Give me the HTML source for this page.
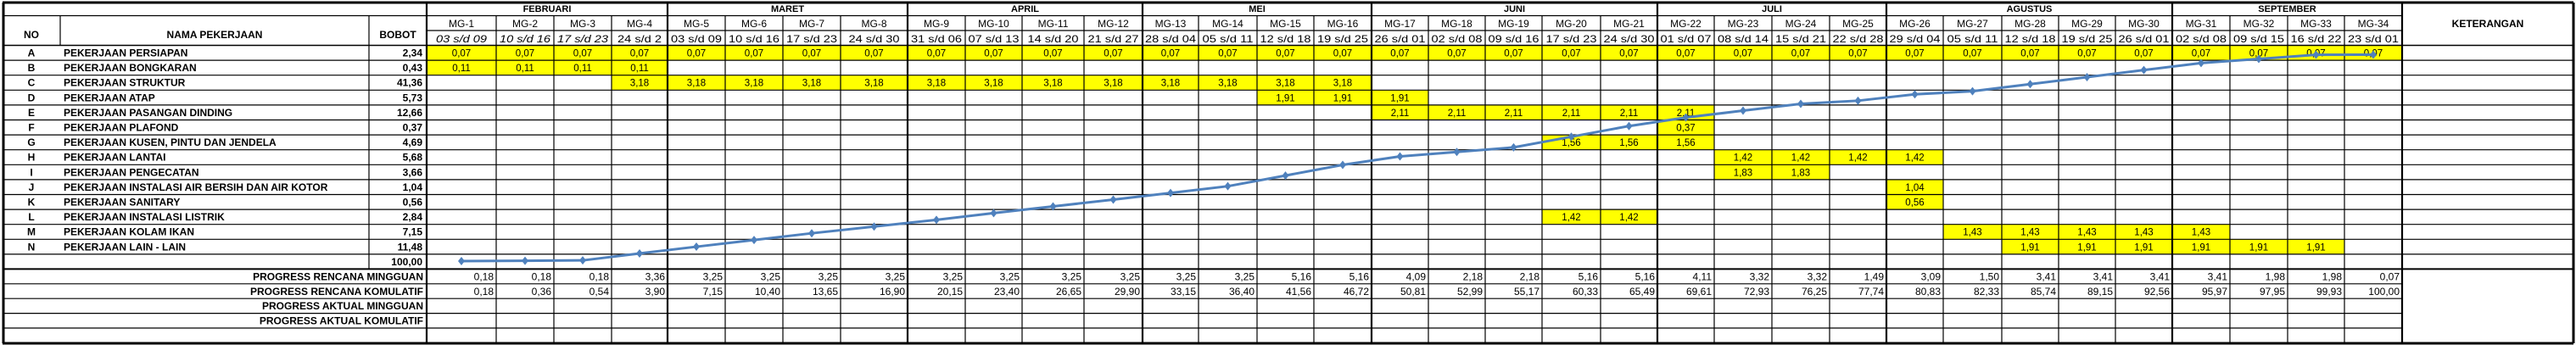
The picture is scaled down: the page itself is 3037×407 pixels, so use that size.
<!DOCTYPE html>
<html><head><meta charset="utf-8"><title>Time Schedule</title>
<style>
html,body{margin:0;padding:0;background:#fff;width:3037px;height:407px;overflow:hidden}
svg{display:block}
text{font-family:"Liberation Sans",sans-serif;fill:#000}
.b{font-weight:bold}
</style></head>
<body>
<svg id="chart" width="3037" height="407" viewBox="0 0 3037 407" xmlns="http://www.w3.org/2000/svg"></svg>
<script>
// ---- data ----
const weeks = ["MG-1","MG-2","MG-3","MG-4","MG-5","MG-6","MG-7","MG-8","MG-9","MG-10","MG-11","MG-12","MG-13","MG-14","MG-15","MG-16","MG-17","MG-18","MG-19","MG-20","MG-21","MG-22","MG-23","MG-24","MG-25","MG-26","MG-27","MG-28","MG-29","MG-30","MG-31","MG-32","MG-33","MG-34"];
const dates = ["03 s/d 09","10 s/d 16","17 s/d 23","24 s/d 2","03 s/d 09","10 s/d 16","17 s/d 23","24 s/d 30","31 s/d 06","07 s/d 13","14 s/d 20","21 s/d 27","28 s/d 04","05 s/d 11","12 s/d 18","19 s/d 25","26 s/d 01","02 s/d 08","09 s/d 16","17 s/d 23","24 s/d 30","01 s/d 07","08 s/d 14","15 s/d 21","22 s/d 28","29 s/d 04","05 s/d 11","12 s/d 18","19 s/d 25","26 s/d 01","02 s/d 08","09 s/d 15","16 s/d 22","23 s/d 01"];
const months = ["FEBRUARI","MARET","APRIL","MEI","JUNI","JULI","AGUSTUS","SEPTEMBER"];
const monthWeeks = [4,4,4,4,5,4,5,4];
const taskNo = ["A","B","C","D","E","F","G","H","I","J","K","L","M","N"];
const taskNames = ["PEKERJAAN PERSIAPAN","PEKERJAAN BONGKARAN","PEKERJAAN STRUKTUR","PEKERJAAN ATAP","PEKERJAAN PASANGAN DINDING","PEKERJAAN PLAFOND","PEKERJAAN KUSEN, PINTU DAN JENDELA","PEKERJAAN LANTAI","PEKERJAAN PENGECATAN","PEKERJAAN INSTALASI AIR BERSIH DAN AIR KOTOR","PEKERJAAN SANITARY","PEKERJAAN INSTALASI LISTRIK","PEKERJAAN KOLAM IKAN","PEKERJAAN LAIN - LAIN"];
const taskWeights = ["2,34","0,43","41,36","5,73","12,66","0,37","4,69","5,68","3,66","1,04","0,56","2,84","7,15","11,48"];
const taskStart = [1,1,4,15,17,22,20,23,23,26,26,20,27,28];
const taskEnd   = [34,4,16,17,22,22,22,26,24,26,26,21,31,33];
const taskValue = ["0,07","0,11","3,18","1,91","2,11","0,37","1,56","1,42","1,83","1,04","0,56","1,42","1,43","1,91"];
const weeklyPlan = [0.18,0.18,0.18,3.36,3.25,3.25,3.25,3.25,3.25,3.25,3.25,3.25,3.25,3.25,5.16,5.16,4.09,2.18,2.18,5.16,5.16,4.11,3.32,3.32,1.49,3.09,1.50,3.41,3.41,3.41,3.41,1.98,1.98,0.07];
const cumulativePlan = [0.18,0.36,0.54,3.90,7.15,10.40,13.65,16.90,20.15,23.40,26.65,29.90,33.15,36.40,41.56,46.72,50.81,52.99,55.17,60.33,65.49,69.61,72.93,76.25,77.74,80.83,82.33,85.74,89.15,92.56,95.97,97.95,99.93,100.00];

// ---- layout ----
const colEdges = [503,585,653,721,787,855,923,991,1070,1138,1205,1278,1347,1413,1482,1549,1617,1684,1751,1818,1887,1954,2021,2089,2157,2224,2291,2360,2427,2494,2561,2629,2697,2764,2832];
const KET_R = 3034, L = 3, NO_R = 71, NAME_R = 435;
const Y0 = 3, Y1 = 18.5, Y2 = 36, Y3 = 53.5;
const RH = 17.6;
const rowY = i => Y3 + i * RH;
const progY = [300, 317.4, 334.8, 352.2, 369.6, 387, 404];
const svg = document.getElementById('chart');
const NS = "http://www.w3.org/2000/svg";
function mk(tag, attrs) { const e = document.createElementNS(NS, tag); for (const k in attrs) e.setAttribute(k, attrs[k]); svg.appendChild(e); return e; }
function fmt(v) { return v.toFixed(2).replace('.', ','); }
function txt(x, y, s, size, anchor, cls) { const t = mk('text', {x: x, y: y, 'font-size': size, 'text-anchor': anchor || 'middle'}); if (cls) t.setAttribute('class', cls); t.textContent = s; return t; }
function line(x1, y1, x2, y2, w, c) { return mk('line', {x1: x1, y1: y1, x2: x2, y2: y2, stroke: c || '#000', 'stroke-width': w || 1}); }
const cx = i => (colEdges[i] + colEdges[i + 1]) / 2;

for (let t = 0; t < taskNo.length; t++) {
  for (let w = taskStart[t]; w <= taskEnd[t]; w++) {
    const i = w - 1;
    const r = mk('rect', {x: colEdges[i], y: rowY(t), width: colEdges[i + 1] - colEdges[i], height: RH, fill: '#ffff00'});
    
    
    const tx = txt(cx(i), rowY(t) + 13, taskValue[t], 11.5);
    
    
  }
}

line(L, Y1, colEdges[colEdges.length - 1], Y1, 1.2);
line(colEdges[0], Y2, colEdges[colEdges.length - 1], Y2, 1.2);
line(L, Y3, KET_R, Y3, 1.5);
for (let r = 1; r <= 14; r++) line(L, rowY(r), KET_R, rowY(r), 1.2);
line(L, progY[1], KET_R, progY[1], 2);
for (let r = 2; r <= 5; r++) line(L, progY[r], colEdges[colEdges.length - 1], progY[r], 1.2);

line(NO_R, Y1, NO_R, Y3, 1.2);
line(NAME_R, Y1, NAME_R, progY[1], 1.2);
let mEdges = [0]; let acc = 0; for (const n of monthWeeks) { acc += n; mEdges.push(acc); }
for (let i = 0; i < colEdges.length; i++) {
  const thick = mEdges.includes(i);
  line(colEdges[i], thick ? Y0 : Y1, colEdges[i], 404, thick ? 2.2 : 1.2);
}
line(L, Y0, KET_R, Y0, 3); line(L, 405, KET_R, 405, 3);
line(L + 1, Y0, L + 1, 405, 3); line(KET_R, Y0, KET_R, 405, 3);

const h1 = txt((L + NO_R) / 2, 45, 'NO', 12, 'middle', 'b');
 
const h2 = txt((NO_R + NAME_R) / 2, 45, 'NAMA PEKERJAAN', 12, 'middle', 'b');
 
const h3 = txt((NAME_R + colEdges[0]) / 2, 45, 'BOBOT', 12, 'middle', 'b');
 
const h4 = txt((colEdges[34] + KET_R) / 2, 32, 'KETERANGAN', 12, 'middle', 'b');
 
for (let m = 0; m < months.length; m++) {
  const t = txt((colEdges[mEdges[m]] + colEdges[mEdges[m + 1]]) / 2, 14, months[m], 11, 'middle', 'b');
  
  
}
for (let i = 0; i < weeks.length; i++) {
  const t = txt(cx(i), 32, weeks[i], 12);
  
  
  const d = txt(cx(i), 50, dates[i], 12);
  d.setAttribute('textLength', dates[i].length > 8 ? 60 : 52);
  d.setAttribute('lengthAdjust', 'spacingAndGlyphs');
  if (i < 3) d.setAttribute('font-style', 'italic');
  
  
}

for (let t = 0; t < taskNo.length; t++) {
  const y = rowY(t) + 13;
  const a = txt((L + NO_R) / 2, y, taskNo[t], 12, 'middle', 'b');
  
  
  const b = txt(75, y, taskNames[t], 12, 'start', 'b');
  
  
  const c = txt(colEdges[0] - 5, y, taskWeights[t], 12, 'end', 'b');
  
  
}
const tot = txt(colEdges[0] - 5, rowY(14) + 13, '100,00', 12, 'end', 'b');
 

const progLabels = ['PROGRESS RENCANA MINGGUAN', 'PROGRESS RENCANA KOMULATIF', 'PROGRESS AKTUAL MINGGUAN', 'PROGRESS AKTUAL KOMULATIF'];
for (let r = 0; r < 4; r++) {
  const p = txt(colEdges[0] - 4, progY[r + 1] + 13, progLabels[r], 12, 'end', 'b');
  
  
}
for (let i = 0; i < weeks.length; i++) {
  const a = txt(colEdges[i + 1] - 3, progY[1] + 13, fmt(weeklyPlan[i]), 12, 'end');
  
  
  const b = txt(colEdges[i + 1] - 3, progY[2] + 13, fmt(cumulativePlan[i]), 12, 'end');
  
  
}

const yScale = v => 308.5 - 2.44 * v;
const pts = cumulativePlan.map((v, i) => cx(i) + ',' + yScale(v)).join(' ');
const pl = mk('polyline', {points: pts, fill: 'none', stroke: '#4f81bd', 'stroke-width': 3});


for (let i = 0; i < cumulativePlan.length; i++) {
  const x = cx(i), y = yScale(cumulativePlan[i]);
  const d = mk('polygon', {points: `${x},${y - 5} ${x + 4},${y} ${x},${y + 5} ${x - 4},${y}`, fill: '#4f81bd'});
  
  
}
</script>
</body></html>
